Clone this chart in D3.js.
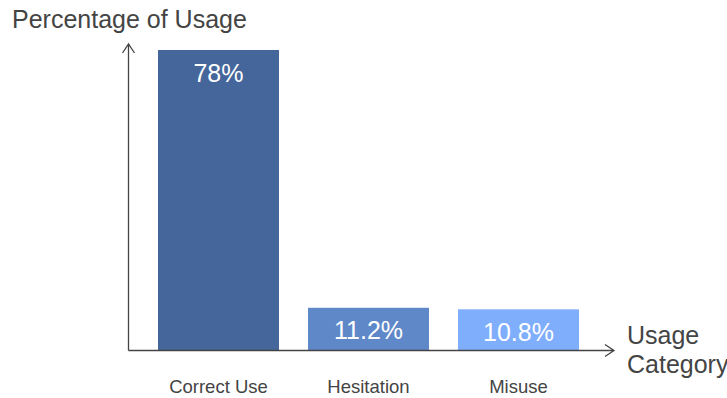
<!DOCTYPE html>
<html>
<head>
<meta charset="utf-8">
<script src="https://cdn.jsdelivr.net/npm/d3@7"></script>
<style>
  body { margin: 0; background: #fff; }
  text { font-family: "Liberation Sans", Arial, sans-serif; }
</style>
</head>
<body>
<div id="chart"></div>
<script>
// Data
const categories = ["Correct Use", "Hesitation", "Misuse"];
const values = [78, 11.2, 10.8];
const labels = ["78%", "11.2%", "10.8%"];
const colors = ["#45669a", "#5f88c9", "#7faefc"];

const width = 727, height = 398;
const baseY = 350.5, axisX = 128.5;

const svg = d3.select("#chart")
    .append("svg")
    .attr("width", width)
    .attr("height", height);

// X Scale
const x = d3.scaleBand()
    .domain(categories)
    .range([143.5, 593.5])
    .paddingInner(29 / 150)
    .paddingOuter(29 / 300);

// Y Scale
const y = d3.scaleLinear()
    .domain([0, 78])
    .range([351, 50]);

// Bars
svg.selectAll(".bar")
    .data(values)
    .enter().append("rect")
    .attr("class", "bar")
    .attr("x", (d, i) => x(categories[i]))
    .attr("y", d => y(d))
    .attr("width", x.bandwidth())
    .attr("height", d => y(0) - y(d))
    .attr("fill", (d, i) => colors[i]);

// Value labels inside bars
svg.selectAll(".value")
    .data(values)
    .enter().append("text")
    .attr("class", "value")
    .attr("x", (d, i) => x(categories[i]) + x.bandwidth() / 2)
    .attr("y", d => y(d) + 31.5)
    .attr("text-anchor", "middle")
    .attr("fill", "#fff")
    .style("font-size", "25px")
    .text((d, i) => labels[i]);

// Category labels
svg.selectAll(".cat")
    .data(categories)
    .enter().append("text")
    .attr("class", "cat")
    .attr("x", d => x(d) + x.bandwidth() / 2)
    .attr("y", 392.5)
    .attr("text-anchor", "middle")
    .attr("fill", "#444")
    .style("font-size", "18.5px")
    .text(d => d);

// Axes with open arrowheads
const axisColor = "#444";
svg.append("path")
    .attr("d", `M${axisX},${baseY}V44 M${axisX - 6},53 L${axisX},44 L${axisX + 6},53`)
    .attr("fill", "none")
    .attr("stroke", axisColor)
    .attr("stroke-width", 1.3);

svg.append("path")
    .attr("d", `M${axisX},${baseY}H614 M605,${baseY - 6} L614,${baseY} L605,${baseY + 6}`)
    .attr("fill", "none")
    .attr("stroke", axisColor)
    .attr("stroke-width", 1.3);

// Axis titles
svg.append("text")
    .attr("x", 12)
    .attr("y", 28)
    .attr("fill", "#444")
    .style("font-size", "25px")
    .text("Percentage of Usage");

const xTitle = svg.append("text")
    .attr("x", 627)
    .attr("y", 344)
    .attr("fill", "#444")
    .style("font-size", "25px");
xTitle.append("tspan").attr("x", 627).text("Usage");
xTitle.append("tspan").attr("x", 627).attr("dy", 29).text("Category");
</script>
</body>
</html>
